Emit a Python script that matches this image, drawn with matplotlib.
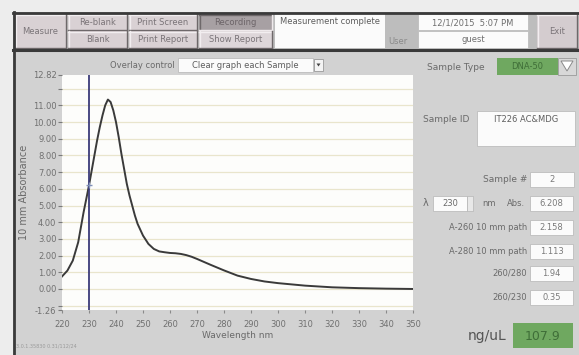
import matplotlib
matplotlib.use("Agg")
import matplotlib.pyplot as plt
from matplotlib.patches import Rectangle, Polygon

# ---------------- data ----------------
wavelength_nm = [220, 222, 224, 226, 228, 229, 230, 231, 232, 233, 234, 235, 236, 237, 238,
                 239, 240, 241, 242, 243, 244, 245, 246, 247, 248, 250, 252, 254, 256, 258,
                 260, 262, 264, 266, 268, 270, 275, 280, 285, 290, 295, 300, 310, 320, 330,
                 340, 350]
absorbance = [0.75, 1.10, 1.70, 2.80, 4.60, 5.40, 6.208, 7.10, 8.00, 8.90, 9.70, 10.40, 11.00,
              11.35, 11.20, 10.70, 10.00, 9.10, 8.10, 7.20, 6.30, 5.60, 5.00, 4.40, 3.90,
              3.20, 2.70, 2.40, 2.25, 2.20, 2.158, 2.14, 2.10, 2.03, 1.93, 1.80, 1.45, 1.113,
              0.80, 0.60, 0.45, 0.35, 0.20, 0.10, 0.05, 0.02, 0.00]
y_ticks = [-1.26, -1, 0, 1, 2, 3, 4, 5, 6, 7, 8, 9, 10, 11, 12, 12.82]
y_tick_labels = ["-1.26", "", "0.00", "1.00", "2.00", "3.00", "4.00", "5.00", "6.00",
                 "7.00", "8.00", "9.00", "10.00", "11.00", "", "12.82"]
x_ticks = [220, 230, 240, 250, 260, 270, 280, 290, 300, 310, 320, 330, 340, 350]
cursor_nm = 230
cursor_abs = 6.208
result_labels = ["A-260 10 mm path", "A-280 10 mm path", "260/280", "260/230"]
result_values = ["2.158", "1.113", "1.94", "0.35"]
concentration = "107.9"

W, H = 579, 355
fig = plt.figure(figsize=(W / 100, H / 100), dpi=100)
bg = fig.add_axes([0, 0, 1, 1])
bg.set_xlim(0, W)
bg.set_ylim(H, 0)
bg.axis("off")

GRAY_TXT = "#6a6a6a"
FONT = "DejaVu Sans"


def rect(x0, y0, x1, y1, fc, ec="none", lw=0.0, z=1):
    bg.add_patch(Rectangle((x0, y0), x1 - x0, y1 - y0, facecolor=fc, edgecolor=ec,
                           linewidth=lw, zorder=z))


def button(x0, y0, x1, y1, label, fc="#d9d1d4", pressed=False, txt="#7a7478", fs=6):
    rect(x0, y0, x1, y1, fc, z=2)
    light, dark = ("#6e686a", "#efeaec") if pressed else ("#f2eef0", "#6e686a")
    bg.plot([x0, x1], [y0 + 0.5, y0 + 0.5], color=light, lw=1, zorder=3)
    bg.plot([x0 + 0.5, x0 + 0.5], [y0, y1], color=light, lw=1, zorder=3)
    bg.plot([x0, x1], [y1 - 0.5, y1 - 0.5], color=dark, lw=1, zorder=3)
    bg.plot([x1 - 0.5, x1 - 0.5], [y0, y1], color=dark, lw=1, zorder=3)
    bg.text((x0 + x1) / 2, (y0 + y1) / 2 + 0.5, label, ha="center", va="center",
            fontsize=fs, color=txt, family=FONT, zorder=4)


def field(x0, y0, x1, y1, value, fs=6, color="#7a7a7a", va_top=False):
    rect(x0, y0, x1, y1, "#fbfbfb", ec="#bdbdbd", lw=0.6, z=2)
    if va_top:
        bg.text((x0 + x1) / 2, y0 + 8, value, ha="center", va="center", fontsize=fs,
                color=color, family=FONT, zorder=4)
    else:
        bg.text((x0 + x1) / 2, (y0 + y1) / 2 + 0.5, value, ha="center", va="center",
                fontsize=fs, color=color, family=FONT, zorder=4)


# page and frame
rect(0, 0, W, H, "#ededed", z=0)
rect(13, 12, W, H, "#d2d2d2", z=0.5)
rect(13, 12, W, 50, "#bdbdbd", z=0.6)
bg.plot([13, W], [12.5, 12.5], color="#3a3a3a", lw=2, zorder=5)
bg.plot([13, W], [49.5, 49.5], color="#3a3a3a", lw=2.2, zorder=5)
bg.plot([13.5, 13.5], [12, H], color="#3a3a3a", lw=2, zorder=5)

# top toolbar
button(15, 14, 66, 48, "Measure")
button(68, 14, 127, 30, "Re-blank")
button(68, 31, 127, 48, "Blank")
button(129, 14, 197, 30, "Print Screen")
button(129, 31, 197, 48, "Print Report")
button(199, 14, 272, 30, "Recording", fc="#a7a0a3", pressed=True, txt="#6c6468")
button(199, 31, 272, 48, "Show Report", fc="#ddd6d9")
rect(275, 14, 385, 48, "#fbfbfb", z=2)
bg.text(280, 22, "Measurement complete", ha="left", va="center", fontsize=6,
        color="#5e5e5e", family=FONT, zorder=4)
bg.text(388, 42, "User", ha="left", va="center", fontsize=6, color="#8a8a8a",
        family=FONT, zorder=4)
field(418, 14, 528, 30, "12/1/2015  5:07 PM", color="#6e6e6e")
field(418, 31, 528, 48, "guest", color="#6e6e6e")
button(537, 14, 577, 48, "Exit", fc="#d4cccf")

# overlay control
bg.text(175, 65, "Overlay control", ha="right", va="center", fontsize=6,
        color=GRAY_TXT, family=FONT, zorder=4)
field(178, 58, 313, 72, "Clear graph each Sample", color="#5e5e5e")
rect(314, 59, 323, 71, "#f4f4f4", ec="#9a9a9a", lw=0.6, z=3)
bg.add_patch(Polygon([[316.5, 63.5], [320.5, 63.5], [318.5, 66.5]], closed=True,
                     facecolor="#444444", edgecolor="none", zorder=4))

# right panel
bg.text(485, 67, "Sample Type", ha="right", va="center", fontsize=6.5, color=GRAY_TXT,
        family=FONT, zorder=4)
rect(497, 58, 558, 75, "#6fa860", z=2)
bg.text(527, 66.5, "DNA-50", ha="center", va="center", fontsize=6, color="#3f6e38",
        family=FONT, zorder=4)
rect(558, 58, 576, 75, "#d8d8d8", ec="#9a9a9a", lw=0.6, z=2)
bg.add_patch(Polygon([[561, 61], [573, 61], [567, 71]], closed=True, facecolor="#ffffff",
                     edgecolor="#8a8a8a", lw=0.7, zorder=4))

bg.text(423, 120, "Sample ID", ha="left", va="center", fontsize=6.5, color=GRAY_TXT,
        family=FONT, zorder=4)
field(477, 111, 575, 146, "IT226 AC&MDG", color="#5e5e5e", va_top=True)

bg.text(527, 180, "Sample #", ha="right", va="center", fontsize=6.5, color=GRAY_TXT,
        family=FONT, zorder=4)
field(530, 172, 574, 187, "2")

# lambda row
bg.text(423, 203.5, "λ", ha="left", va="center", fontsize=7, color=GRAY_TXT,
        family=FONT, zorder=4)
field(433, 196, 467, 211, str(cursor_nm), color="#6a6a6a")
rect(467, 196, 473, 211, "#e8e8e8", ec="#b5b5b5", lw=0.5, z=3)
bg.text(482, 203.5, "nm", ha="left", va="center", fontsize=6, color=GRAY_TXT,
        family=FONT, zorder=4)
bg.text(525, 203.5, "Abs.", ha="right", va="center", fontsize=6, color=GRAY_TXT,
        family=FONT, zorder=4)
field(530, 196, 573, 211, f"{cursor_abs:.3f}")

row_y = [227, 251, 273, 297]
for lab, val, yy in zip(result_labels, result_values, row_y):
    bg.text(527, yy, lab, ha="right", va="center", fontsize=6, color=GRAY_TXT,
            family=FONT, zorder=4)
    field(530, yy - 7.5, 573, yy + 7.5, val)

bg.text(487, 336, "ng/uL", ha="center", va="center", fontsize=10, color="#555555",
        family=FONT, zorder=4)
rect(513, 323, 573, 348, "#6fa860", z=2)
bg.text(543, 336, concentration, ha="center", va="center", fontsize=9, color="#3f6e38",
        family=FONT, zorder=4)

bg.text(16, 346, "3.0.1.35830 0.31/112/24", ha="left", va="center", fontsize=3.5,
        color="#9a9a9a", family=FONT, zorder=4)

# ---------------- plot ----------------
L, R, T, B = 62, 413, 75, 310
ax = fig.add_axes([L / W, 1 - B / H, (R - L) / W, (B - T) / H])
ax.set_facecolor("#fdfdfb")
ax.set_xlim(220, 350)
ax.set_ylim(-1.26, 12.82)
for s in ax.spines.values():
    s.set_visible(False)
for g in range(-1, 13):
    ax.axhline(g, color="#e9e5cc", lw=0.9, zorder=1)
ax.plot(wavelength_nm, absorbance, color="#3a3a3a", lw=1.4, zorder=3)
ax.axvline(cursor_nm, color="#3c3c7a", lw=1.3, zorder=4)
ax.plot([cursor_nm], [cursor_abs], marker="+", color="#8090b8", ms=5, mew=1, zorder=5)

ax.set_yticks(y_ticks)
ax.set_yticklabels(y_tick_labels)
ax.set_xticks(x_ticks)
ax.set_xticklabels([str(v) for v in x_ticks])
ax.tick_params(axis="y", direction="out", length=3, width=0.8, color="#7a7a7a",
               labelsize=6, labelcolor="#707070", pad=1)
ax.tick_params(axis="x", direction="out", length=2, width=0.8, color="#8a8a8a",
               labelsize=6, labelcolor="#707070", pad=5)
for t in ax.get_xticklabels() + ax.get_yticklabels():
    t.set_family(FONT)
ax.set_xlabel("Wavelength nm", fontsize=6.5, color="#6a6a6a", family=FONT, labelpad=2)
ax.set_ylabel("10 mm Absorbance", fontsize=7, color="#6a6a6a", family=FONT, labelpad=3)

fig.savefig("out.png", dpi=100)
